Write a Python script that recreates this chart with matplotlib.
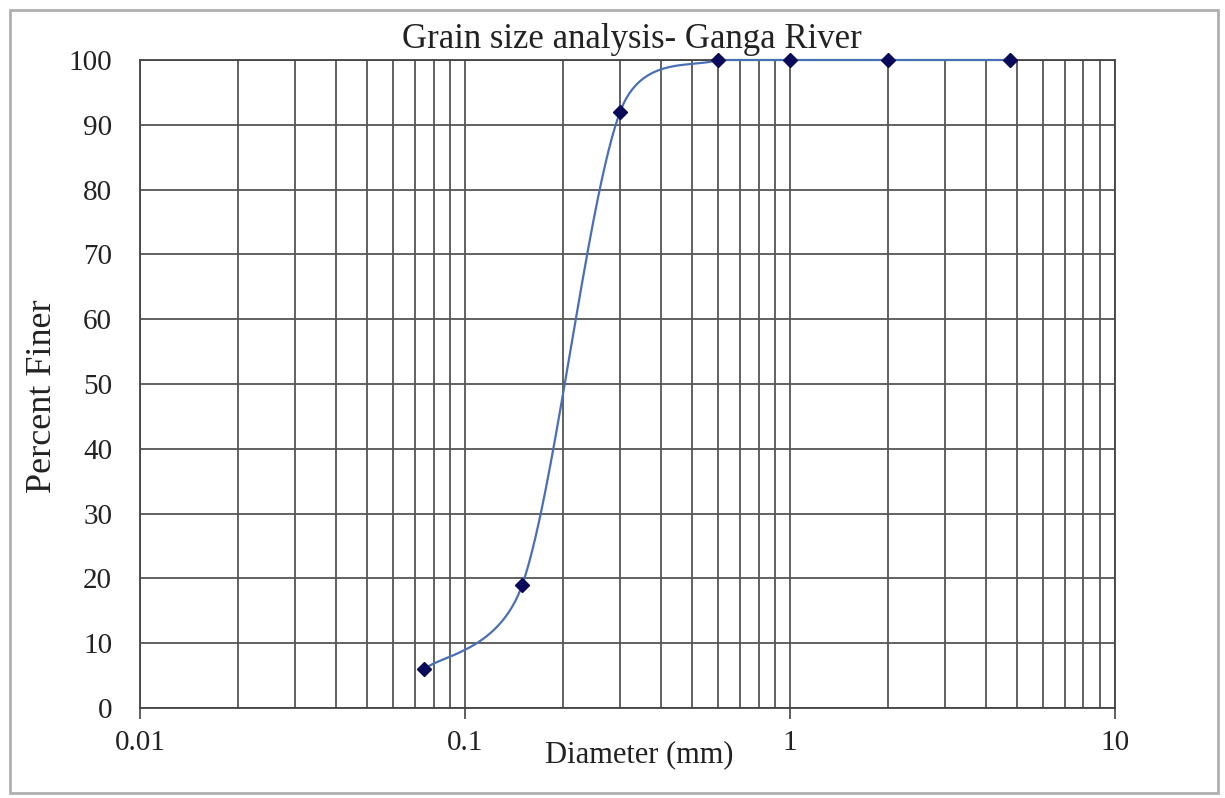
"""
Grain size distribution curve for the Ganga River sample
"""

import numpy as np
import matplotlib
matplotlib.use("Agg")
import matplotlib.pyplot as plt
from matplotlib.ticker import LogLocator, NullFormatter, FixedLocator, FixedFormatter
from matplotlib.patches import Rectangle

# Sieve data
diameter_mm = [0.075, 0.15, 0.3, 0.6, 1.0, 2.0, 4.75]
percent_finer = [6, 19, 92, 100, 100, 100, 100]

x_ticks = [0.01, 0.1, 1, 10]
x_tick_labels = ["0.01", "0.1", "1", "10"]
y_ticks = list(range(0, 101, 10))

plt.rcParams['font.family'] = ['Liberation Serif', 'DejaVu Serif']

fig = plt.figure(figsize=(12.25, 7.98), dpi=100)
ax = fig.add_axes([0.1143, 0.1128, 0.7959, 0.812])

ax.set_xscale('log')
ax.set_xlim(0.01, 10)
ax.set_ylim(0, 100)


def smooth_curve(xs, ys, w=975.0, h=648.0, cap=0.55, steps=60):
    """Bezier smoothing through the points, done in screen-like units."""
    u = (np.log10(xs) + 2) / 3 * w
    v = np.asarray(ys, dtype=float) / 100 * h
    pts = np.column_stack([u, v])
    n = len(pts)
    t = np.linspace(0, 1, steps)[:, None]
    out = []
    for i in range(n - 1):
        p0, p3 = pts[i], pts[i + 1]
        chord = np.hypot(*(p3 - p0))
        prev = pts[i - 1] if i > 0 else pts[i]
        nxt = pts[i + 2] if i + 2 < n else pts[i + 1]
        d1 = (p3 - prev) / 6
        d2 = (nxt - p0) / 6
        # keep control handles from overshooting short segments
        for d in (d1, d2):
            ln = np.hypot(*d)
            if ln > cap * chord:
                d *= cap * chord / ln
        p1 = p0 + d1
        p2 = p3 - d2
        seg = ((1 - t) ** 3) * p0 + 3 * ((1 - t) ** 2) * t * p1 \
            + 3 * (1 - t) * t ** 2 * p2 + t ** 3 * p3
        out.append(seg)
    out = np.vstack(out)
    return 10 ** (out[:, 0] / w * 3 - 2), np.minimum(out[:, 1] / h * 100, 100)


cx, cy = smooth_curve(diameter_mm, percent_finer)
ax.plot(cx, cy, color='#4a6fb5', lw=1.6, zorder=3, clip_on=False)
ax.plot(diameter_mm, percent_finer, linestyle='none', marker='D', markersize=7,
        color='#0a0a5a', zorder=4, clip_on=False)

# Grid
ax.xaxis.set_major_locator(FixedLocator(x_ticks))
ax.xaxis.set_major_formatter(FixedFormatter(x_tick_labels))
ax.xaxis.set_minor_locator(LogLocator(base=10, subs=np.arange(2, 10)))
ax.xaxis.set_minor_formatter(NullFormatter())
ax.set_yticks(y_ticks)
ax.grid(True, which='both', axis='x', color='#555555', lw=1.3)
ax.grid(True, which='major', axis='y', color='#555555', lw=1.3)
ax.set_axisbelow(True)

for s in ax.spines.values():
    s.set_color('#444444')
    s.set_linewidth(1.3)

ax.tick_params(axis='x', which='major', length=8, width=1.2, color='#444444',
               labelsize=21, pad=8, labelcolor='#222222')
ax.tick_params(axis='x', which='minor', length=0)
ax.tick_params(axis='y', which='major', length=0, labelsize=21, pad=20,
               labelcolor='#222222')

fig.text(0.516, 0.951, "Grain size analysis- Ganga River", ha='center', va='center',
         fontsize=25, color='#222222')
fig.text(0.522, 0.054, "Diameter (mm)", ha='center', va='center',
         fontsize=22, color='#222222')
fig.text(0.035, 0.504, "Percent Finer", ha='center', va='center', rotation=90,
         fontsize=26, color='#222222')

# Chart border
fig.patches.append(Rectangle((0.008, 0.006), 0.986, 0.981, transform=fig.transFigure,
                             fill=False, edgecolor='#b0b0b0', lw=2))

fig.savefig("out.png", dpi=100)
